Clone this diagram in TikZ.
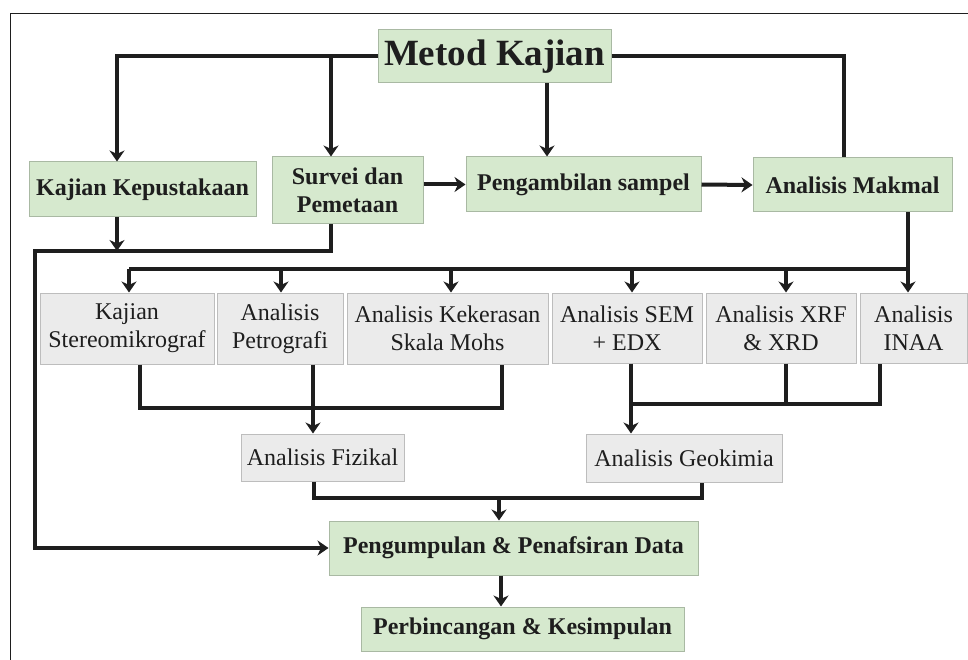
\documentclass[tikz,border=0pt]{standalone}
\usepackage{fontspec}
\setmainfont{Liberation Serif}
\usetikzlibrary{arrows.meta}
\definecolor{gfill}{HTML}{D6E9CE}
\definecolor{gdraw}{HTML}{A9B9A3}
\definecolor{hfill}{HTML}{EBEBEB}
\definecolor{hdraw}{HTML}{BDBDBD}
\definecolor{ink}{HTML}{1E1E1E}
\begin{document}
\begin{tikzpicture}[x=1pt,y=-1pt,
  greenbox/.style={draw=gdraw, fill=gfill, line width=1pt, inner sep=0pt, align=center, text=ink,
    font=\fontsize{24}{27.5}\selectfont\bfseries},
  greybox/.style={draw=hdraw, fill=hfill, line width=1pt, inner sep=0pt, align=center, text=ink,
    font=\fontsize{24}{28}\selectfont},
  conn/.style={draw=ink, line width=4pt},
  arr/.style={conn, -{Stealth[length=11pt,width=15pt,inset=3.5pt]}},
  frameline/.style={draw=ink, line width=0.9pt}
]
\useasboundingbox (0,0) rectangle (968,660);
\clip (0,0) rectangle (968,660);
\fill[white] (0,0) rectangle (968,660);
\draw[frameline] (10,662) -- (10,13) -- (970,13);

% top row
\node[greenbox, minimum width=233pt, minimum height=53pt, font=\fontsize{37}{40}\selectfont\bfseries] (metod) at (494.5,56.5) {Metod Kajian};
\node[greenbox, minimum width=227pt, minimum height=55pt] (kk) at (142.5,189.5) {Kajian Kepustakaan};
\node[greenbox, minimum width=151pt, minimum height=67pt] (sv) at (347.5,190.5) {Survei dan\\Pemetaan};
\node[greenbox, minimum width=235pt, minimum height=55pt] (pg) at (583.5,184.5) {Pengambilan sampel};
\node[greenbox, minimum width=199pt, minimum height=54pt] (mk) at (852.5,185) {Analisis Makmal};

% second row
\node[greybox, minimum width=174pt, minimum height=71pt] (st) at (127,328.5) {Kajian\\Stereomikrograf};
\node[greybox, minimum width=126pt, minimum height=71pt] (pe) at (280,328.5) {Analisis\\Petrografi};
\node[greybox, minimum width=201pt, minimum height=71pt] (ke) at (447.5,328.5) {Analisis Kekerasan\\Skala Mohs};
\node[greybox, minimum width=150pt, minimum height=70pt] (se) at (627,328) {Analisis SEM\\+ EDX};
\node[greybox, minimum width=150pt, minimum height=70pt] (xr) at (781,328) {Analisis XRF\\\& XRD};
\node[greybox, minimum width=107pt, minimum height=70pt] (in) at (913.5,328) {Analisis\\INAA};

% third row
\node[greybox, minimum width=163pt, minimum height=47pt] (fz) at (322.5,457.5) {Analisis Fizikal};
\node[greybox, minimum width=196pt, minimum height=48pt] (gk) at (684,458) {Analisis Geokimia};

% bottom
\node[greenbox, minimum width=369pt, minimum height=54pt] (pu) at (513.5,548) {Pengumpulan \& Penafsiran Data};
\node[greenbox, minimum width=323pt, minimum height=44pt] (pb) at (522.5,629) {Perbincangan \& Kesimpulan};

% helper coordinates
\coordinate (kkin) at ([xshift=-25.5]kk.north);
\coordinate (kkout) at ([xshift=-25.5]kk.south);
\coordinate (svin) at ([xshift=-16.5]sv.north);
\coordinate (svout) at ([xshift=-16.5]sv.south);
\coordinate (pgin) at ([xshift=-36.5]pg.north);
\coordinate (mkin) at ([xshift=-8.5]mk.north);
\coordinate (mkout) at ([xshift=55.5]mk.south);
\coordinate (lc) at (35,251);
\coordinate (busy) at (500,269);
\coordinate (stin) at ([xshift=2]st.north);
\coordinate (pein) at ([xshift=1]pe.north);
\coordinate (kein) at ([xshift=3.5]ke.north);
\coordinate (sein) at ([xshift=5]se.north);
\coordinate (xrin) at ([xshift=5]xr.north);
\coordinate (inin) at ([xshift=-5.5]in.north);
\coordinate (stout) at ([xshift=13]st.south);
\coordinate (peout) at ([xshift=33]pe.south);
\coordinate (keout) at ([xshift=54.5]ke.south);
\coordinate (seout) at ([xshift=4]se.south);
\coordinate (xrout) at ([xshift=5]xr.south);
\coordinate (inout) at ([xshift=-33.5]in.south);
\coordinate (fy) at (500,408);
\coordinate (gy) at (700,404);
\coordinate (fzin) at (peout |- fz.north);
\coordinate (gkin) at (seout |- gk.north);
\coordinate (fzout) at ([xshift=-8.5]fz.south);
\coordinate (gkout) at ([xshift=18]gk.south);
\coordinate (py) at (500,498);
\coordinate (puin) at ([xshift=-14.5]pu.north);
\coordinate (pbin) at ([xshift=-21.5]pb.north);

% connectors from Metod Kajian
\draw[arr] (metod.west) -| (kkin);
\draw[arr] (svin |- metod.west) -- (svin);
\draw[arr] (pgin |- metod.south) -- (pgin);
\draw[conn] (metod.east) -| (mkin);
\draw[arr] (sv.east |- pg.west) -- (pg.west);
\draw[arr] (pg.east) -- (mk.west);

% left collector to Pengumpulan
\draw[arr] (kkout) -- (kkout |- lc);
\draw[arr] (svout) |- (lc) |- (pu.west);

% distribution bus from Analisis Makmal
\draw[conn] (stin |- busy) -- (mkout |- busy);
\draw[arr] (mkout) -- (inin);
\draw[arr] (stin |- busy) -- (stin);
\draw[arr] (pein |- busy) -- (pein);
\draw[arr] (kein |- busy) -- (kein);
\draw[arr] (sein |- busy) -- (sein);
\draw[arr] (xrin |- busy) -- (xrin);

% physical analyses
\draw[conn] (stout) |- (keout |- fy) -- (keout);
\draw[arr] (peout) -- (fzin);

% geochemical analyses
\draw[arr] (seout) -- (gkin);
\draw[conn] (seout |- gy) -- (inout |- gy) -- (inout);
\draw[conn] (xrout) -- (xrout |- gy);

% to Pengumpulan
\draw[conn] (fzout) |- (gkout |- py) -- (gkout);
\draw[arr] (puin |- py) -- (puin);
\draw[arr] (pbin |- pu.south) -- (pbin);
\end{tikzpicture}
\end{document}
